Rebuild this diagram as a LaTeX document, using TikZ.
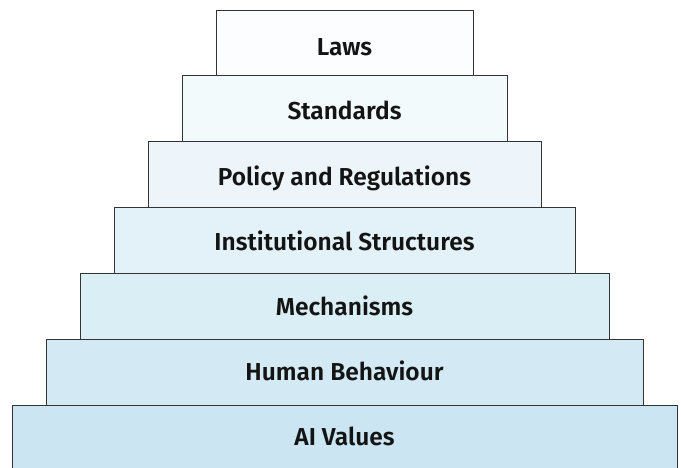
\documentclass[tikz,border=0pt]{standalone}
\usepackage{fontspec}
\setmainfont{Fira Sans}[BoldFont={Fira Sans SemiBold}]
\begin{document}
\begin{tikzpicture}[x=1pt,y=-1pt,
  tier/.style={draw=black!80, line width=0.9pt, inner sep=0pt, anchor=north west},
  tiertext/.style={font=\fontsize{24.5}{28}\selectfont\bfseries, text=black!92,
    inner sep=0pt, text height=17pt, text depth=0pt},
]
\useasboundingbox (0,0) rectangle (681,468);
\definecolor{cA}{HTML}{CBE6F2}
\definecolor{cB}{HTML}{D3EAF4}
\definecolor{cC}{HTML}{DAEEF5}
\definecolor{cD}{HTML}{E3F2F8}
\definecolor{cE}{HTML}{EDF5FB}
\definecolor{cF}{HTML}{F2FAFC}
\definecolor{cG}{HTML}{FBFDFE}
% layers, widest at the base (the base runs past the lower edge)
\begin{scope}
\clip (0,0) rectangle (681,468);
\node[tier, fill=cA, minimum width=665pt, minimum height=90pt] (ai) at (12,405) {};
\end{scope}
\node[tier, fill=cB, minimum width=597pt, minimum height=66pt] (hb) at (46,339) {};
\node[tier, fill=cC, minimum width=529pt, minimum height=66pt] (me) at (80,273) {};
\node[tier, fill=cD, minimum width=461pt, minimum height=66pt] (is) at (114,207) {};
\node[tier, fill=cE, minimum width=393pt, minimum height=66pt] (pr) at (148,141) {};
\node[tier, fill=cF, minimum width=325pt, minimum height=66pt] (st) at (182,75) {};
\node[tier, fill=cG, minimum width=257pt, minimum height=65pt] (la) at (216,10) {};
% labels
\node[tiertext] (ai-t) at (344.5,436.5) {AI Values};
\node[tiertext] (hb-t) at (344.5,372) {Human Behaviour};
\node[tiertext] (me-t) at (344.5,307.2) {Mechanisms};
\node[tiertext] (is-t) at (344.5,242) {Institutional Structures};
\node[tiertext] (pr-t) at (344.5,177.5) {Policy and Regulations};
\node[tiertext] (st-t) at (344.5,111) {Standards};
\node[tiertext] (la-t) at (344.5,46.7) {Laws};
\end{tikzpicture}
\end{document}
